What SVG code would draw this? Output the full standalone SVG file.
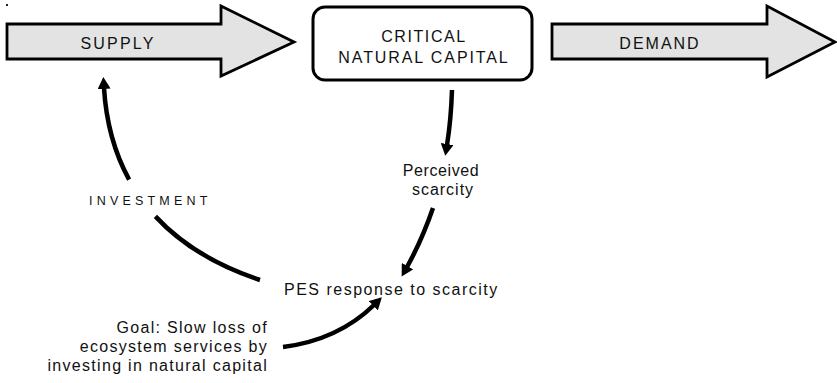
<svg xmlns="http://www.w3.org/2000/svg" width="837" height="383" viewBox="0 0 837 383">
<style>
.big{fill:#e3e3e3;stroke:#000;stroke-width:2.8;stroke-linejoin:miter}
.box{fill:#fff;stroke:#000;stroke-width:3}
.t{font-family:"Liberation Sans",Arial,sans-serif;fill:#111;font-size:16px}
.c{stroke:#000;fill:none;stroke-width:4.5;stroke-linecap:butt}
</style>
<defs>
<marker id="ah" viewBox="0 0 12 13" refX="1" refY="6.5" markerWidth="12" markerHeight="13" markerUnits="userSpaceOnUse" orient="auto">
<path d="M0,0 L12,6.5 L0,13 Z" fill="#000"/>
</marker>
</defs>
<rect x="6" y="4" width="2" height="2" fill="#222"/>
<g id="supply">
<path class="big" d="M7,24 L221,24 L221,6 L294,42 L221,76 L221,59 L7,59 Z"/>
<text class="t" x="118" y="49" text-anchor="middle" letter-spacing="2.2">SUPPLY</text>
</g>
<g id="critical-natural-capital">
<rect class="box" x="313" y="7" width="219" height="73" rx="12"/>
<text class="t" x="424" y="42" text-anchor="middle" letter-spacing="1.6">CRITICAL</text>
<text class="t" x="424" y="63" text-anchor="middle" letter-spacing="1.9">NATURAL CAPITAL</text>
</g>
<g id="demand">
<path class="big" d="M552,24 L767,24 L767,6 L835,42 L767,77 L767,59 L552,59 Z"/>
<text class="t" x="660" y="49" text-anchor="middle" letter-spacing="2">DEMAND</text>
</g>
<g id="perceived-scarcity">
<text class="t" x="441" y="176" text-anchor="middle" letter-spacing="0.6">Perceived</text>
<text class="t" x="443" y="195" text-anchor="middle" letter-spacing="1">scarcity</text>
</g>
<g id="pes-response">
<text class="t" x="284" y="295" letter-spacing="1.5">PES response to scarcity</text>
</g>
<g id="investment">
<text class="t" x="89" y="205" style="font-size:12.5px" letter-spacing="4.2">INVESTMENT</text>
</g>
<g id="goal">
<text class="t" x="268" y="333" text-anchor="end" letter-spacing="1.3">Goal: Slow loss of</text>
<text class="t" x="268" y="352" text-anchor="end" letter-spacing="1.3">ecosystem services by</text>
<text class="t" x="268" y="371" text-anchor="end" letter-spacing="1.3">investing in natural capital</text>
</g>
<g id="connectors">
<path class="c" d="M452,90 Q451,120 447,145" marker-end="url(#ah)"/>
<path class="c" d="M433,208 Q422,240 407,267" marker-end="url(#ah)"/>
<path class="c" d="M260,280 C217.7,265.9 182,245.2 155.4,216.4"/>
<path class="c" d="M129.1,179.6 C114.8,153.4 106.1,122.4 104,88" marker-end="url(#ah)"/>
<path class="c" d="M283,347 Q338,340 374,305" marker-end="url(#ah)"/>
</g>
</svg>
